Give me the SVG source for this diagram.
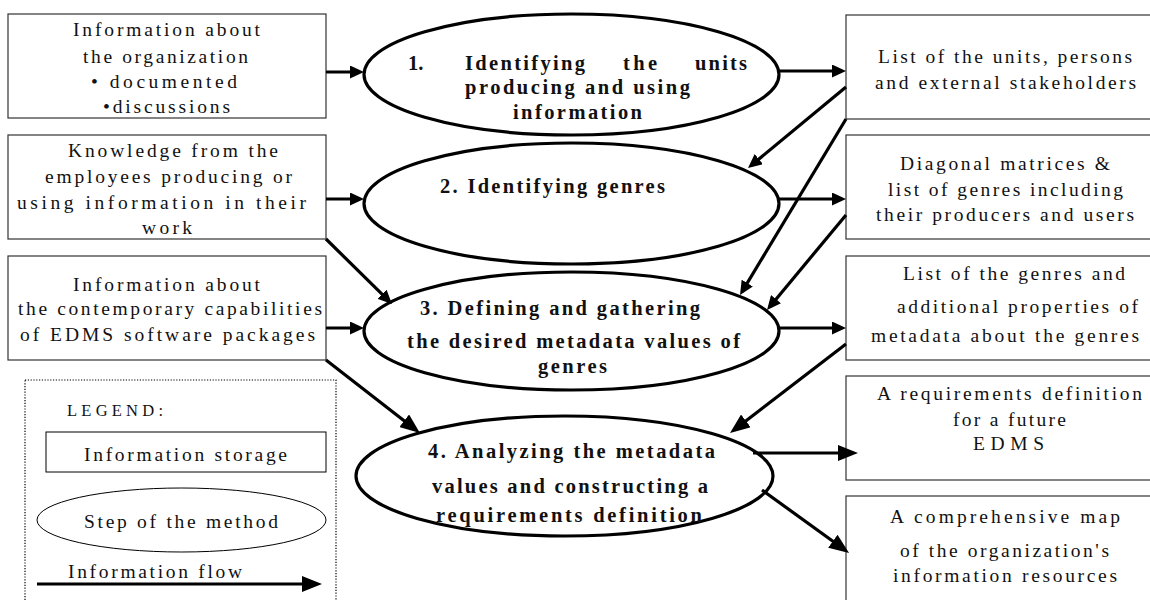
<svg xmlns="http://www.w3.org/2000/svg" width="1150" height="600" viewBox="0 0 1150 600">
<style>
.box{fill:#fff;stroke:#333;stroke-width:1.2}
.step{fill:#fff;stroke:#000;stroke-width:3.2}
.t{font-family:"Liberation Serif","Times New Roman",serif;font-size:19.5px;fill:#111}
.b{font-family:"Liberation Serif","Times New Roman",serif;font-size:20.5px;font-weight:bold;fill:#111}
.c{fill:none;stroke:#000;stroke-width:3.2}
.lg{fill:none;stroke:#000;stroke-width:1}
</style>
<defs>
<marker id="ah" markerUnits="userSpaceOnUse" markerWidth="14" markerHeight="13" refX="10" refY="6.5" orient="auto"><path d="M0,0 L14,6.5 L0,13 z" fill="#000"/></marker>
<marker id="ahl" markerUnits="userSpaceOnUse" markerWidth="20" markerHeight="16" refX="15" refY="8" orient="auto"><path d="M0,0 L20,8 L0,16 z" fill="#000"/></marker>
</defs>
<rect width="1150" height="600" fill="#fff"/>

<g id="in1"><rect class="box" x="8" y="14" width="318" height="104"/>
<text class="t" x="73" y="36" textLength="187" lengthAdjust="spacing">Information about</text>
<text class="t" x="83" y="63" textLength="165" lengthAdjust="spacing">the organization</text>
<text class="t" x="91" y="88" textLength="146" lengthAdjust="spacing">• documented</text>
<text class="t" x="103" y="113" textLength="127" lengthAdjust="spacing">•discussions</text></g>

<g id="in2"><rect class="box" x="8" y="135" width="318" height="104"/>
<text class="t" x="68" y="157" textLength="210" lengthAdjust="spacing">Knowledge from the</text>
<text class="t" x="45" y="183" textLength="247" lengthAdjust="spacing">employees producing or</text>
<text class="t" x="17" y="209" textLength="289" lengthAdjust="spacing">using information in their</text>
<text class="t" x="142" y="234" textLength="50" lengthAdjust="spacing">work</text></g>

<g id="in3"><rect class="box" x="8" y="256" width="318" height="104"/>
<text class="t" x="73" y="291" textLength="187" lengthAdjust="spacing">Information about</text>
<text class="t" x="18" y="315" textLength="304" lengthAdjust="spacing">the contemporary capabilities</text>
<text class="t" x="20" y="341" textLength="295" lengthAdjust="spacing">of EDMS software packages</text></g>

<g id="legend">
<rect x="25" y="380" width="311" height="240" fill="none" stroke="#000" stroke-width="1.2" stroke-dasharray="1.2,1.6"/>
<text class="t" x="67" y="416" textLength="96" lengthAdjust="spacing" style="font-size:16.5px">LEGEND:</text>
<rect class="lg" x="46" y="432" width="280" height="40"/>
<text class="t" x="84" y="461" textLength="203" lengthAdjust="spacing">Information storage</text>
<ellipse class="lg" cx="181.5" cy="520" rx="144.5" ry="32"/>
<text class="t" x="84" y="528" textLength="194" lengthAdjust="spacing">Step of the method</text>
<text class="t" x="68" y="578" textLength="174" lengthAdjust="spacing">Information flow</text>
<line class="c" x1="37" y1="584" x2="317" y2="584" marker-end="url(#ahl)"/>
</g>

<g id="step1"><ellipse class="step" cx="571.5" cy="74.5" rx="207.5" ry="60.5"/>
<text class="b" x="408" y="70">1.</text>
<text class="b" x="465" y="70" textLength="120" lengthAdjust="spacing">Identifying</text>
<text class="b" x="623" y="70" textLength="34" lengthAdjust="spacing">the</text>
<text class="b" x="695" y="70" textLength="52" lengthAdjust="spacing">units</text>
<text class="b" x="465" y="94" textLength="225" lengthAdjust="spacing">producing and using</text>
<text class="b" x="513" y="119" textLength="129" lengthAdjust="spacing">information</text></g>

<g id="step2"><ellipse class="step" cx="571.5" cy="203.5" rx="207.5" ry="60.5"/>
<text class="b" x="440" y="193" textLength="225" lengthAdjust="spacing">2. Identifying genres</text></g>

<g id="step3"><ellipse class="step" cx="571.5" cy="331" rx="207.5" ry="59"/>
<text class="b" x="420" y="315" textLength="280" lengthAdjust="spacing">3. Defining and gathering</text>
<text class="b" x="407" y="348" textLength="333" lengthAdjust="spacing">the desired metadata values of</text>
<text class="b" x="538" y="373" textLength="69" lengthAdjust="spacing">genres</text></g>

<g id="step4"><ellipse class="step" cx="564.5" cy="476" rx="208.5" ry="60"/>
<text class="b" x="428" y="458" textLength="287" lengthAdjust="spacing">4. Analyzing the metadata</text>
<text class="b" x="432" y="493" textLength="276" lengthAdjust="spacing">values and constructing a</text>
<text class="b" x="436" y="522" textLength="266" lengthAdjust="spacing">requirements definition</text></g>

<g id="out1"><rect class="box" x="846" y="15" width="320" height="104"/>
<text class="t" x="878" y="63" textLength="254" lengthAdjust="spacing">List of the units, persons</text>
<text class="t" x="875" y="89" textLength="261" lengthAdjust="spacing">and external stakeholders</text></g>

<g id="out2"><rect class="box" x="846" y="135" width="320" height="104"/>
<text class="t" x="900" y="170" textLength="210" lengthAdjust="spacing">Diagonal matrices &amp;</text>
<text class="t" x="888" y="196" textLength="235" lengthAdjust="spacing">list of genres including</text>
<text class="t" x="876" y="221" textLength="258" lengthAdjust="spacing">their producers and users</text></g>

<g id="out3"><rect class="box" x="846" y="256" width="320" height="104"/>
<text class="t" x="903" y="280" textLength="222" lengthAdjust="spacing">List of the genres and</text>
<text class="t" x="897" y="313" textLength="241" lengthAdjust="spacing">additional properties of</text>
<text class="t" x="871" y="342" textLength="268" lengthAdjust="spacing">metadata about the genres</text></g>

<g id="out4"><rect class="box" x="846" y="376" width="320" height="104"/>
<text class="t" x="877" y="400" textLength="265" lengthAdjust="spacing">A requirements definition</text>
<text class="t" x="953" y="426" textLength="113" lengthAdjust="spacing">for a future</text>
<text class="t" x="973" y="450" textLength="71" lengthAdjust="spacing">EDMS</text></g>

<g id="out5"><rect class="box" x="846" y="496" width="320" height="120"/>
<text class="t" x="890" y="523" textLength="230" lengthAdjust="spacing">A comprehensive map</text>
<text class="t" x="900" y="557" textLength="209" lengthAdjust="spacing">of the organization's</text>
<text class="t" x="893" y="582" textLength="224" lengthAdjust="spacing">information resources</text></g>

<g id="connectors">
<line class="c" x1="326" y1="72" x2="360" y2="72" marker-end="url(#ah)"/>
<line class="c" x1="779" y1="71" x2="842" y2="71" marker-end="url(#ah)"/>
<line class="c" x1="846" y1="87" x2="751.1" y2="165.5" marker-end="url(#ah)"/>
<line class="c" x1="326" y1="199" x2="360" y2="199" marker-end="url(#ah)"/>
<line class="c" x1="779" y1="199" x2="842" y2="199" marker-end="url(#ah)"/>
<line class="c" x1="846" y1="119" x2="742.1" y2="291.6" marker-end="url(#ah)"/>
<line class="c" x1="846" y1="215" x2="769.6" y2="306.9" marker-end="url(#ah)"/>
<line class="c" x1="326" y1="239" x2="389.1" y2="301.2" marker-end="url(#ah)"/>
<line class="c" x1="326" y1="328" x2="360" y2="328" marker-end="url(#ah)"/>
<line class="c" x1="779" y1="328" x2="842" y2="328" marker-end="url(#ah)"/>
<line class="c" x1="846" y1="344" x2="734" y2="430" marker-end="url(#ahl)"/>
<line class="c" x1="326" y1="360" x2="416" y2="430" marker-end="url(#ahl)"/>
<line class="c" x1="753" y1="453" x2="853" y2="453" marker-end="url(#ahl)"/>
<line class="c" x1="762" y1="490" x2="845" y2="550" marker-end="url(#ahl)"/>
</g>
</svg>
